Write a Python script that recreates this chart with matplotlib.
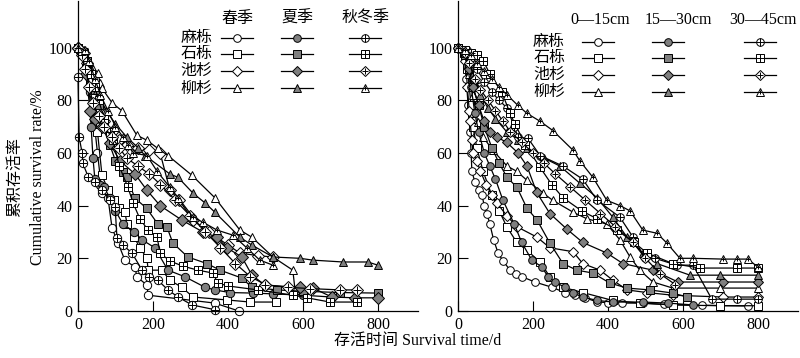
import matplotlib
matplotlib.use("Agg")
import matplotlib.pyplot as plt

plt.rcParams['font.family'] = ['Liberation Serif', 'Noto Sans CJK SC', 'DejaVu Sans']
plt.rcParams['axes.unicode_minus'] = False

species = ['麻栎', '石栎', '池杉', '柳杉']
markers = ['o', 's', 'D', '^']
left_groups = ['春季', '夏季', '秋冬季']
right_groups = ['0—15cm', '15—30cm', '30—45cm']
y_ticks = [0, 20, 40, 60, 80, 100]
x_ticks = [0, 200, 400, 600, 800]

# ---------- left panel: seasons ----------
L_spring_mali_x = [0, 12, 22, 32, 42, 52, 64, 80, 91, 107, 125, 152, 157, 184, 187, 365, 429]
L_spring_mali_y = [100, 97, 91, 83, 73, 60, 44.7, 42.8, 31.4, 25.8, 19.3, 16.7, 13, 9.8, 6, 3, 0]
L_spring_shili_x = [0, 12, 22, 32, 42, 52, 64, 80, 95, 110, 125, 131, 150, 165, 184, 187, 224, 245, 277, 307, 397, 459, 528]
L_spring_shili_y = [100, 98, 93, 86, 78, 68, 51.5, 46, 42, 39, 37.5, 33, 28, 24, 20, 15.5, 15.5, 11.7, 9, 5.3, 4.2, 3.4, 3.4]
L_spring_chishan_x = [0, 15, 25, 35, 45, 55, 70, 90, 110, 130, 160, 190, 219, 245, 270, 307, 350, 400, 432, 480, 520]
L_spring_chishan_y = [100, 98, 94, 88, 82, 77, 72, 68, 65, 63, 62, 61, 60, 46, 42, 34.5, 30, 25, 22, 21, 20.5]
L_spring_liushan_x = [0, 10, 20, 30, 40, 53, 59, 64, 91, 117, 157, 184, 213, 240, 304, 365, 432, 464, 520, 573, 579]
L_spring_liushan_y = [100, 99, 97, 95, 92, 90.5, 86.7, 84.5, 79, 76, 66.7, 64.8, 61.7, 59, 51.5, 43, 30.7, 28, 20.5, 15.5, 8]

L_summer_mali_x = [0, 15, 25, 30, 35, 40, 45, 60, 69, 85, 100, 120, 150, 171, 205, 240, 285, 339, 365, 405, 467, 520, 600, 677]
L_summer_mali_y = [100, 98, 94, 85, 70, 58, 50, 48, 47, 43, 38, 33, 30, 27, 24, 15.5, 13, 9, 8, 7, 6.8, 6.5, 6, 5.3]
L_summer_shili_x = [0, 15, 25, 35, 45, 55, 70, 85, 100, 120, 130, 152, 183, 213, 237, 253, 293, 344, 379, 437, 464, 531, 600, 700, 800]
L_summer_shili_y = [100, 98, 95, 90, 84, 78, 70, 63, 57, 52.7, 50.7, 42.8, 39, 33, 32, 25.8, 20.5, 18, 15.5, 12.5, 9, 8, 7.5, 7, 6.8]
L_summer_chishan_x = [0, 12, 22, 32, 45, 64, 85, 112, 152, 183, 219, 277, 333, 371, 397, 437, 464, 499, 592, 627, 677, 740, 800]
L_summer_chishan_y = [100, 98, 90, 76, 73, 70, 63.6, 57, 52, 46, 40, 34.5, 30, 28, 24, 20.5, 13.6, 9.8, 9, 8.7, 5.3, 5, 5]
L_summer_liushan_x = [0, 15, 25, 35, 50, 75, 100, 130, 160, 179, 245, 267, 307, 339, 365, 432, 464, 520, 592, 627, 707, 773, 800]
L_summer_liushan_y = [100, 99, 96, 92, 84, 76, 71, 66, 62, 59, 52, 50.7, 44.7, 41, 37.5, 28, 25, 20.5, 20, 19.3, 18.6, 18.6, 17.4]

L_aw_mali_x = [0, 3, 11, 13, 27, 45, 65, 85, 99, 104, 120, 144, 171, 190, 213, 240, 267, 304, 365]
L_aw_mali_y = [89, 66, 60, 56, 51, 49, 46, 42, 39.4, 27.6, 25, 22, 15.5, 13, 11.7, 8, 5.3, 2.3, 0.5]
L_aw_shili_x = [0, 15, 25, 35, 45, 55, 70, 85, 93, 110, 133, 147, 165, 187, 211, 219, 245, 280, 320, 360, 373, 400, 480, 573, 611, 672, 744]
L_aw_shili_y = [100, 98, 95, 90, 85, 80, 73, 68, 65, 55, 47, 41, 35, 30.7, 28, 22, 19, 17, 15.5, 14.4, 10.6, 9.5, 8, 6, 5, 3.4, 3.4]
L_aw_chishan_x = [0, 10, 20, 30, 40, 55, 70, 90, 110, 130, 160, 190, 220, 260, 300, 340, 380, 420, 460, 500, 560, 620, 700, 744]
L_aw_chishan_y = [100, 97, 92, 85, 79, 74, 70, 66, 62, 58, 55, 52, 48, 42, 36, 30, 24, 18, 13, 10, 9, 8.5, 8, 8]
L_aw_liushan_x = [0, 20, 30, 45, 60, 80, 100, 120, 133, 147, 184, 211, 245, 267, 307, 333, 371, 413, 450, 485, 520]
L_aw_liushan_y = [100, 99, 95, 88, 82, 76, 70, 66, 63, 60, 59, 53, 47, 43, 35.6, 33.7, 30.7, 28.8, 24, 19.3, 17.4]

# ---------- right panel: soil depth ----------
R_d1_mali_x = [0, 15, 22, 27, 32, 35, 37, 45, 55, 64, 70, 77, 85, 95, 107, 120, 139, 155, 171, 205, 251, 285, 312, 340, 371, 400, 437, 493, 550, 650, 773]
R_d1_mali_y = [100, 97, 88, 78, 68, 60, 53, 49, 46, 44, 40, 37, 33, 27, 22, 19, 15.5, 14, 13, 11, 9, 7, 6, 5, 3.4, 3.2, 3, 3, 2.5, 2.2, 1.9]
R_d1_shili_x = [0, 15, 25, 30, 35, 37, 40, 50, 67, 90, 110, 130, 157, 184, 219, 245, 280, 333, 413, 485, 573, 700, 800]
R_d1_shili_y = [100, 98, 92, 85, 78, 75, 70, 62, 53, 44, 38, 32, 26, 23, 18.6, 13, 9, 7, 4, 3, 2.3, 2, 2]
R_d1_chishan_x = [0, 20, 25, 30, 32, 37, 40, 50, 60, 75, 90, 104, 131, 157, 211, 245, 307, 333, 379, 413, 451, 504, 573, 707, 800]
R_d1_chishan_y = [100, 95, 85, 76, 72, 65, 60, 57, 53, 48, 44, 41, 36, 32, 28, 24, 22.5, 18, 15.5, 11.7, 8, 7, 6, 5.3, 5.3]
R_d1_liushan_x = [0, 20, 30, 40, 53, 67, 93, 131, 157, 184, 227, 253, 307, 344, 397, 432, 459, 485, 520, 573, 700, 800]
R_d1_liushan_y = [100, 97, 90, 82, 71.6, 66, 61, 55, 53, 49.6, 44.7, 42, 37.5, 35, 33, 27, 20.5, 15.5, 11, 8.7, 8.7, 8.7]

R_d2_mali_x = [0, 15, 25, 35, 45, 55, 70, 85, 100, 120, 150, 170, 197, 224, 240, 259, 285, 307, 333, 371, 413, 493, 560, 627]
R_d2_mali_y = [100, 98, 93, 85, 75, 68, 60, 55, 50, 42, 33, 26, 19.3, 16.7, 13, 11, 9, 6.8, 5.3, 4, 3.4, 3.4, 3, 2.3]
R_d2_shili_x = [0, 20, 30, 40, 55, 70, 90, 110, 131, 157, 184, 211, 245, 280, 317, 360, 405, 451, 512, 573, 611]
R_d2_shili_y = [100, 97, 92, 85, 78, 70, 62, 56, 50.7, 47, 39, 34.5, 25.8, 18, 15.5, 14.4, 10.6, 8.7, 8, 6.8, 5.3]
R_d2_chishan_x = [0, 20, 30, 40, 55, 70, 85, 104, 130, 160, 184, 210, 245, 291, 333, 397, 440, 520, 587, 707, 800]
R_d2_chishan_y = [100, 98, 92, 85, 78, 72, 68, 66, 64, 60, 55, 45, 37, 31, 26, 22, 18, 15.5, 11, 11, 11]
R_d2_liushan_x = [0, 20, 30, 45, 60, 80, 100, 130, 160, 184, 230, 272, 325, 371, 413, 451, 493, 531, 619, 700, 800]
R_d2_liushan_y = [100, 98, 95, 88, 82, 77, 73, 68, 65, 62, 58, 55, 48.5, 43, 35.6, 28, 22, 18, 13.6, 13.6, 13.6]

R_d3_mali_x = [0, 25, 35, 50, 70, 90, 110, 131, 150, 160, 187, 219, 280, 333, 371, 432, 467, 499, 525, 584, 627, 677, 744, 800]
R_d3_mali_y = [100, 99, 96, 92, 87, 83, 80, 77, 70, 66, 65.5, 59, 55, 50, 42, 35.6, 28, 20, 20, 17.4, 17.4, 4.5, 4.5, 4.5]
R_d3_shili_x = [0, 20, 35, 50, 67, 85, 117, 139, 152, 180, 219, 250, 280, 330, 371, 424, 470, 504, 573, 645, 744, 800]
R_d3_shili_y = [100, 99, 98, 97, 95, 90, 83, 75, 71, 63, 54.5, 48, 43, 38, 35, 30.7, 26, 22, 18, 16.3, 16.3, 16.3]
R_d3_chishan_x = [0, 20, 30, 45, 60, 80, 100, 120, 140, 170, 200, 230, 260, 300, 340, 380, 420, 467, 500, 540, 580]
R_d3_chishan_y = [100, 98, 94, 88, 84, 80, 76, 72, 68, 64, 60, 56, 52, 47, 42, 37, 32, 26, 20, 14, 10]
R_d3_liushan_x = [0, 20, 35, 50, 70, 90, 110, 131, 160, 184, 219, 253, 307, 325, 360, 397, 432, 459, 493, 531, 557, 592, 627, 707, 744, 773, 800]
R_d3_liushan_y = [100, 99, 97, 94, 91, 88, 85, 82, 78, 75, 72, 68.5, 61, 57, 50.7, 42, 40, 38, 30.7, 29.5, 25.8, 20, 20, 19.7, 19.7, 19.7, 16.7]

left_data = [
    [(L_spring_mali_x, L_spring_mali_y), (L_spring_shili_x, L_spring_shili_y),
     (L_spring_chishan_x, L_spring_chishan_y), (L_spring_liushan_x, L_spring_liushan_y)],
    [(L_summer_mali_x, L_summer_mali_y), (L_summer_shili_x, L_summer_shili_y),
     (L_summer_chishan_x, L_summer_chishan_y), (L_summer_liushan_x, L_summer_liushan_y)],
    [(L_aw_mali_x, L_aw_mali_y), (L_aw_shili_x, L_aw_shili_y),
     (L_aw_chishan_x, L_aw_chishan_y), (L_aw_liushan_x, L_aw_liushan_y)],
]
right_data = [
    [(R_d1_mali_x, R_d1_mali_y), (R_d1_shili_x, R_d1_shili_y),
     (R_d1_chishan_x, R_d1_chishan_y), (R_d1_liushan_x, R_d1_liushan_y)],
    [(R_d2_mali_x, R_d2_mali_y), (R_d2_shili_x, R_d2_shili_y),
     (R_d2_chishan_x, R_d2_chishan_y), (R_d2_liushan_x, R_d2_liushan_y)],
    [(R_d3_mali_x, R_d3_mali_y), (R_d3_shili_x, R_d3_shili_y),
     (R_d3_chishan_x, R_d3_chishan_y), (R_d3_liushan_x, R_d3_liushan_y)],
]

GRAY = '#7f7f7f'
MS = 6.0
LW = 0.9
MEW = 0.7
face = ['white', GRAY, 'white']
cross_scale = {'o': 1.0, 's': 0.95, 'D': 0.85, '^': 0.6}


def draw_series(ax, x, y, mk, g, transform=None, ms=MS):
    kw = {}
    if transform is not None:
        kw['transform'] = transform
    ax.plot(x, y, color='black', lw=LW, marker=mk, ms=ms if mk != '^' else ms * 1.05,
            mfc=face[g], mec='black', mew=MEW, clip_on=False, **kw)
    if g == 2:
        ax.plot(x, y, linestyle='none', marker='+', ms=ms * cross_scale[mk],
                mec='black', mew=MEW, clip_on=False, **kw)


fig = plt.figure(figsize=(8.0, 3.58), dpi=100)
W, H = 800.0, 358.0
ax1 = fig.add_axes([78 / W, 1 - 311 / H, 340 / W, 311 / H * 0.998])
ax2 = fig.add_axes([458 / W, 1 - 311 / H, 340 / W, 311 / H * 0.998])

for ax, data in ((ax1, left_data), (ax2, right_data)):
    for g in range(3):
        for s in range(4):
            x, y = data[g][s]
            draw_series(ax, x, y, markers[s], g, ms=MS if ax is ax1 else 5.5)
    ax.set_xlim(0, 907)
    ax.set_ylim(0, 117.8)
    ax.set_xticks(x_ticks)
    ax.set_yticks(y_ticks)
    ax.spines['top'].set_visible(False)
    ax.spines['right'].set_visible(False)
    for sp in ('left', 'bottom'):
        ax.spines[sp].set_linewidth(0.9)
    ax.tick_params(direction='in', length=7, width=0.8, labelsize=11.5, pad=4)

# legends (drawn in axes fraction)
def draw_legend(ax, groups, hdr_x, hdr_y, col_x, rows_y, lab_x, half):
    for g, name in enumerate(groups):
        ax.text(hdr_x[g], hdr_y, name, transform=ax.transAxes, ha='center', va='center', fontsize=11.5)
    for s, sp in enumerate(species):
        ax.text(lab_x, rows_y[s], sp, transform=ax.transAxes, ha='right', va='center', fontsize=11.5)
        for g in range(3):
            cx = col_x[g]
            ax.plot([cx - half, cx + half], [rows_y[s], rows_y[s]], color='black', lw=LW,
                    transform=ax.transAxes, clip_on=False)
            draw_series(ax, [cx], [rows_y[s]], markers[s], g, transform=ax.transAxes, ms=5.5)

draw_legend(ax1, left_groups, [0.468, 0.644, 0.847], 0.942,
            [0.468, 0.644, 0.844], [0.878, 0.828, 0.772, 0.717], 0.395, 0.046)
draw_legend(ax2, right_groups, [0.418, 0.647, 0.897], 0.936,
            [0.412, 0.618, 0.888], [0.868, 0.814, 0.759, 0.707], 0.315, 0.046)

fig.text(15 / W, 0.506, '累积存活率', rotation=90, ha='center', va='center', fontsize=11.5)
fig.text(38 / W, 0.506, 'Cumulative survival rate/%', rotation=90, ha='center', va='center', fontsize=11.5)
fig.text(418 / W, 1 - 341 / H, '存活时间 Survival time/d', ha='center', va='center', fontsize=11.5)

fig.savefig('out.png', dpi=100)
